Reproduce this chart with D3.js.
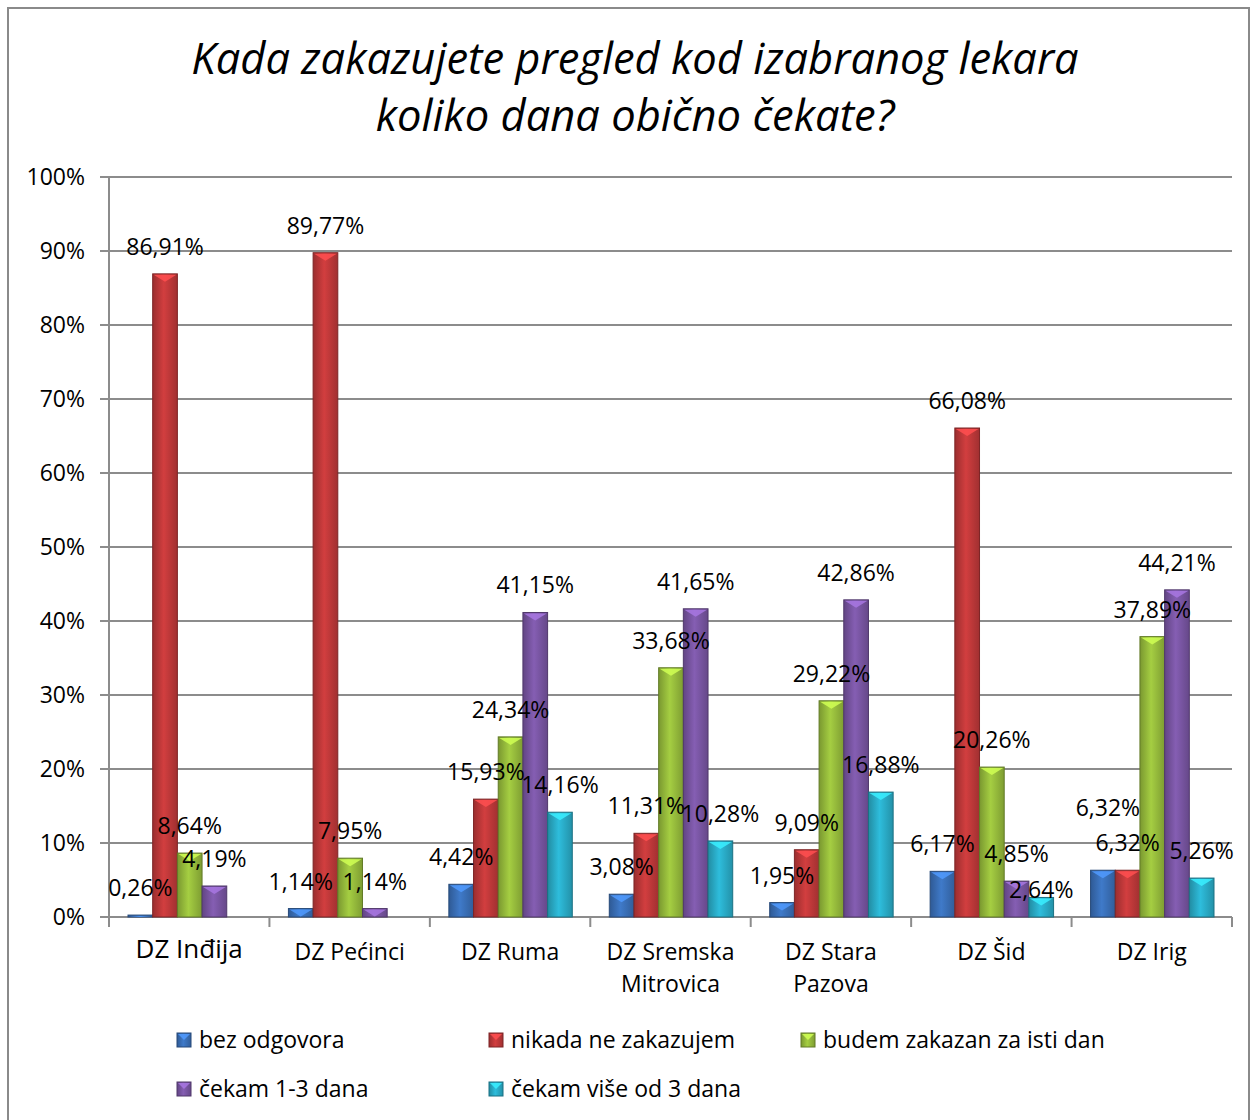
<!DOCTYPE html>
<html>
<head>
<meta charset="utf-8">
<script src="https://cdn.jsdelivr.net/npm/d3@7"></script>
<style>
  body { margin: 0; background: #fff; }
  text { font-family: "Open Sans", sans-serif; fill: #000; }
</style>
</head>
<body>
<svg width="1252" height="1120"></svg>
<script>
const svg = d3.select("svg");

const categories = ["DZ Inđija", "DZ Pećinci", "DZ Ruma", "DZ Sremska Mitrovica", "DZ Stara Pazova", "DZ Šid", "DZ Irig"];
const seriesNames = ["bez odgovora", "nikada ne zakazujem", "budem zakazan za isti dan", "čekam 1-3 dana", "čekam više od 3 dana"];
const bezOdgovora = [0.26, 1.14, 4.42, 3.08, 1.95, 6.17, 6.32];
const nikada = [86.91, 89.77, 15.93, 11.31, 9.09, 66.08, 6.32];
const istiDan = [8.64, 7.95, 24.34, 33.68, 29.22, 20.26, 37.89];
const cekam13 = [4.19, 1.14, 41.15, 41.65, 42.86, 4.85, 44.21];
const cekamVise = [null, null, 14.16, 10.28, 16.88, 2.64, 5.26];
const yTicks = [0, 10, 20, 30, 40, 50, 60, 70, 80, 90, 100];

const series = [bezOdgovora, nikada, istiDan, cekam13, cekamVise];
const colors = ["#3a70b8", "#c0393a", "#97bc3c", "#7a56a4", "#2aadc9"];

const plotLeft = 109, plotRight = 1232, plotTop = 177, plotBottom = 917;

const x = d3.scaleBand().domain(categories).range([plotLeft, plotRight]);
const xInner = d3.scaleBand().domain(d3.range(series.length)).range([19, x.bandwidth() - 18]);
const y = d3.scaleLinear().domain([0, 100]).range([plotBottom, plotTop]);

// outer frame
svg.append("rect")
  .attr("x", 8).attr("y", 8).attr("width", 1241).attr("height", 1130)
  .attr("fill", "none").attr("stroke", "#8a8a8a").attr("stroke-width", 2);

// title
svg.append("text")
  .attr("x", 635).attr("y", 74)
  .attr("text-anchor", "middle")
  .style("font-size", "43.5px").style("font-style", "italic")
  .text("Kada zakazujete pregled kod izabranog lekara");
svg.append("text")
  .attr("x", 635).attr("y", 131)
  .attr("text-anchor", "middle")
  .style("font-size", "43.5px").style("font-style", "italic")
  .text("koliko dana obično čekate?");

// gradients
const defs = svg.append("defs");
colors.forEach((c, i) => {
  const g = defs.append("linearGradient").attr("id", "grad" + i)
    .attr("x1", "0%").attr("x2", "100%").attr("y1", "0%").attr("y2", "0%");
  g.append("stop").attr("offset", "0%").attr("stop-color", d3.color(c).darker(0.6));
  g.append("stop").attr("offset", "45%").attr("stop-color", d3.color(c).brighter(0.25));
  g.append("stop").attr("offset", "100%").attr("stop-color", d3.color(c).darker(0.5));
});

// grid lines + y ticks
svg.append("g").selectAll("line").data(yTicks).join("line")
  .attr("x1", plotLeft - 9).attr("x2", plotRight)
  .attr("y1", d => y(d)).attr("y2", d => y(d))
  .attr("stroke", "#8c8c8c").attr("stroke-width", 2);

svg.append("g").selectAll("text").data(yTicks).join("text")
  .attr("x", 85).attr("y", d => y(d) + 8)
  .attr("text-anchor", "end")
  .style("font-size", "23px")
  .text(d => d + "%");

// y axis line
svg.append("line")
  .attr("x1", plotLeft).attr("x2", plotLeft).attr("y1", plotTop).attr("y2", plotBottom)
  .attr("stroke", "#8c8c8c").attr("stroke-width", 2);

// x axis ticks at category boundaries
const bounds = categories.map(c => x(c)).concat([plotRight]);
svg.append("g").selectAll("line").data(bounds).join("line")
  .attr("x1", d => d).attr("x2", d => d)
  .attr("y1", plotBottom).attr("y2", plotBottom + 10)
  .attr("stroke", "#8c8c8c").attr("stroke-width", 2);

// category labels
const catLines = [["DZ Inđija"], ["DZ Pećinci"], ["DZ Ruma"], ["DZ Sremska", "Mitrovica"], ["DZ Stara", "Pazova"], ["DZ Šid"], ["DZ Irig"]];
categories.forEach((c, i) => {
  const t = svg.append("text")
    .attr("x", x(c) + x.bandwidth() / 2)
    .attr("y", i === 0 ? 958 : 960)
    .attr("text-anchor", "middle")
    .style("font-size", i === 0 ? "26px" : "23px");
  catLines[i].forEach((line, k) => {
    t.append("tspan").attr("x", x(c) + x.bandwidth() / 2).attr("dy", k === 0 ? 0 : 32).text(line);
  });
});

// bars
const bars = svg.append("g");
series.forEach((vals, si) => {
  vals.forEach((v, ci) => {
    if (v == null) return;
    const bx = x(categories[ci]) + xInner(si);
    const bw = xInner.bandwidth();
    const by = y(v);
    bars.append("rect")
      .attr("x", bx).attr("y", by)
      .attr("width", bw).attr("height", plotBottom - by)
      .attr("fill", `url(#grad${si})`)
      .attr("stroke", d3.color(colors[si]).darker(1.2))
      .attr("stroke-width", 1);
    const bev = Math.min(8, plotBottom - by);
    bars.append("path")
      .attr("d", `M${bx + 1},${by + 1}L${bx + bw - 1},${by + 1}L${bx + bw / 2},${by + bev}Z`)
      .attr("fill", d3.color(colors[si]).brighter(0.9))
      .attr("opacity", 0.85);
  });
});

// data labels (two were moved by hand in the original)
const fmt = v => v.toFixed(2).replace(".", ",") + "%";
const nudge = { "0-6": [5, -35], "4-5": [0, 20] };
series.forEach((vals, si) => {
  vals.forEach((v, ci) => {
    if (v == null) return;
    const [dx, dy] = nudge[si + "-" + ci] || [0, 0];
    svg.append("text")
      .attr("x", x(categories[ci]) + xInner(si) + xInner.bandwidth() / 2 + dx)
      .attr("y", y(v) - 19 + dy)
      .attr("text-anchor", "middle")
      .style("font-size", "23px")
      .text(fmt(v));
  });
});

// legend
const legend = svg.append("g");
seriesNames.forEach((name, i) => {
  const lx = 177 + (i % 3) * 312;
  const ly = 1040 + Math.floor(i / 3) * 49;
  legend.append("rect")
    .attr("x", lx).attr("y", ly - 7).attr("width", 14).attr("height", 14)
    .attr("fill", `url(#grad${i})`)
    .attr("stroke", d3.color(colors[i]).darker(1.2));
  legend.append("path")
    .attr("d", `M${lx + 1},${ly - 6}L${lx + 13},${ly - 6}L${lx + 7},${ly}Z`)
    .attr("fill", d3.color(colors[i]).brighter(0.9)).attr("opacity", 0.85);
  legend.append("text")
    .attr("x", lx + 22).attr("y", ly + 8)
    .style("font-size", "23px")
    .text(name);
});
</script>
</body>
</html>
